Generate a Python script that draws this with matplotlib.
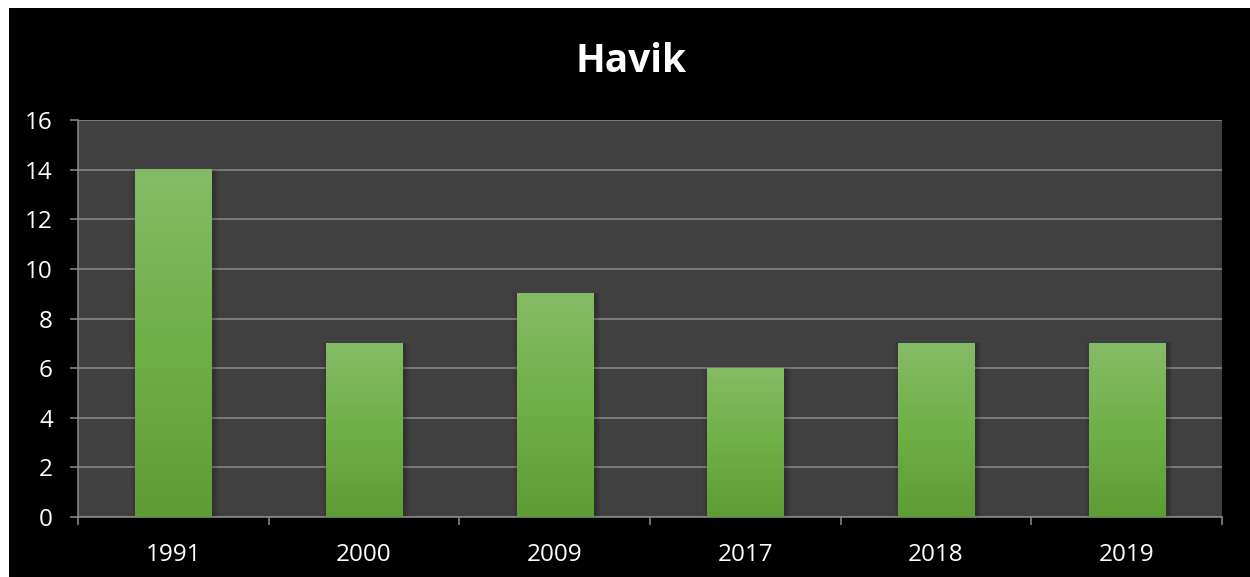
import matplotlib.pyplot as plt
import numpy as np
from matplotlib.patches import Rectangle
from matplotlib.colors import LinearSegmentedColormap

years = ["1991", "2000", "2009", "2017", "2018", "2019"]
counts = [14, 7, 9, 6, 7, 7]
yticks = [0, 2, 4, 6, 8, 10, 12, 14, 16]

plt.rcParams['font.family'] = ['Open Sans', 'DejaVu Sans']

fig = plt.figure(figsize=(12.5, 5.77), dpi=100)
fig.patch.set_facecolor("white")
# black chart area with thin white margin at top/left
fig.patches.append(Rectangle((9 / 1250, 0), 1 - 9 / 1250, 1 - 8 / 577,
                             transform=fig.transFigure, facecolor="black",
                             edgecolor="none", zorder=-10))

ax = fig.add_axes([78 / 1250, 1 - 517 / 577, (1222 - 78) / 1250, (517 - 120) / 577])
ax.set_facecolor("#404040")

x = np.arange(len(years))
width = 0.40
bars = ax.bar(x, counts, width=width, color="none", zorder=3)

grad = LinearSegmentedColormap.from_list("g", ["#5e9c34", "#6fb047", "#85bb66"])
img = np.linspace(0, 1, 256).reshape(-1, 1)
for b in bars:
    x0, h = b.get_x(), b.get_height()
    # soft shadow
    for k, a in enumerate([0.10, 0.07, 0.04]):
        ax.add_patch(Rectangle((x0 - 0.01 * k, 0), width + 0.02 * (k + 1), h + 0.02 * k,
                               facecolor="black", alpha=a, edgecolor="none", zorder=2))
    ax.imshow(img, cmap=grad, origin="lower", aspect="auto",
              extent=(x0, x0 + width, 0, h), zorder=3)

ax.set_xlim(-0.5, len(years) - 0.5)
ax.set_ylim(0, 16)
ax.set_yticks(yticks)
ax.set_xticks(x)
ax.set_xticklabels(years)
ax.set_xticks(np.arange(len(years) + 1) - 0.5, minor=True)
ax.grid(axis="y", color="#8c8c8c", linewidth=1.1, zorder=1)
ax.set_axisbelow(True)

for s in ["top", "right"]:
    ax.spines[s].set_visible(False)
for s in ["left", "bottom"]:
    ax.spines[s].set_color("#8c8c8c")
    ax.spines[s].set_linewidth(1.1)

ax.tick_params(axis="y", colors="#8c8c8c", labelcolor="white", labelsize=17.5,
               length=6, width=1.1, pad=12)
ax.tick_params(axis="x", which="major", length=0, labelcolor="white",
               labelsize=17.5, pad=19)
ax.tick_params(axis="x", which="minor", colors="#8c8c8c", length=6, width=1.1)

fig.text(0.505, 1 - 62 / 577, "Havik", color="white", fontsize=28,
         fontweight="bold", ha="center", va="center")

fig.savefig("out.png", dpi=100, facecolor=fig.get_facecolor())
